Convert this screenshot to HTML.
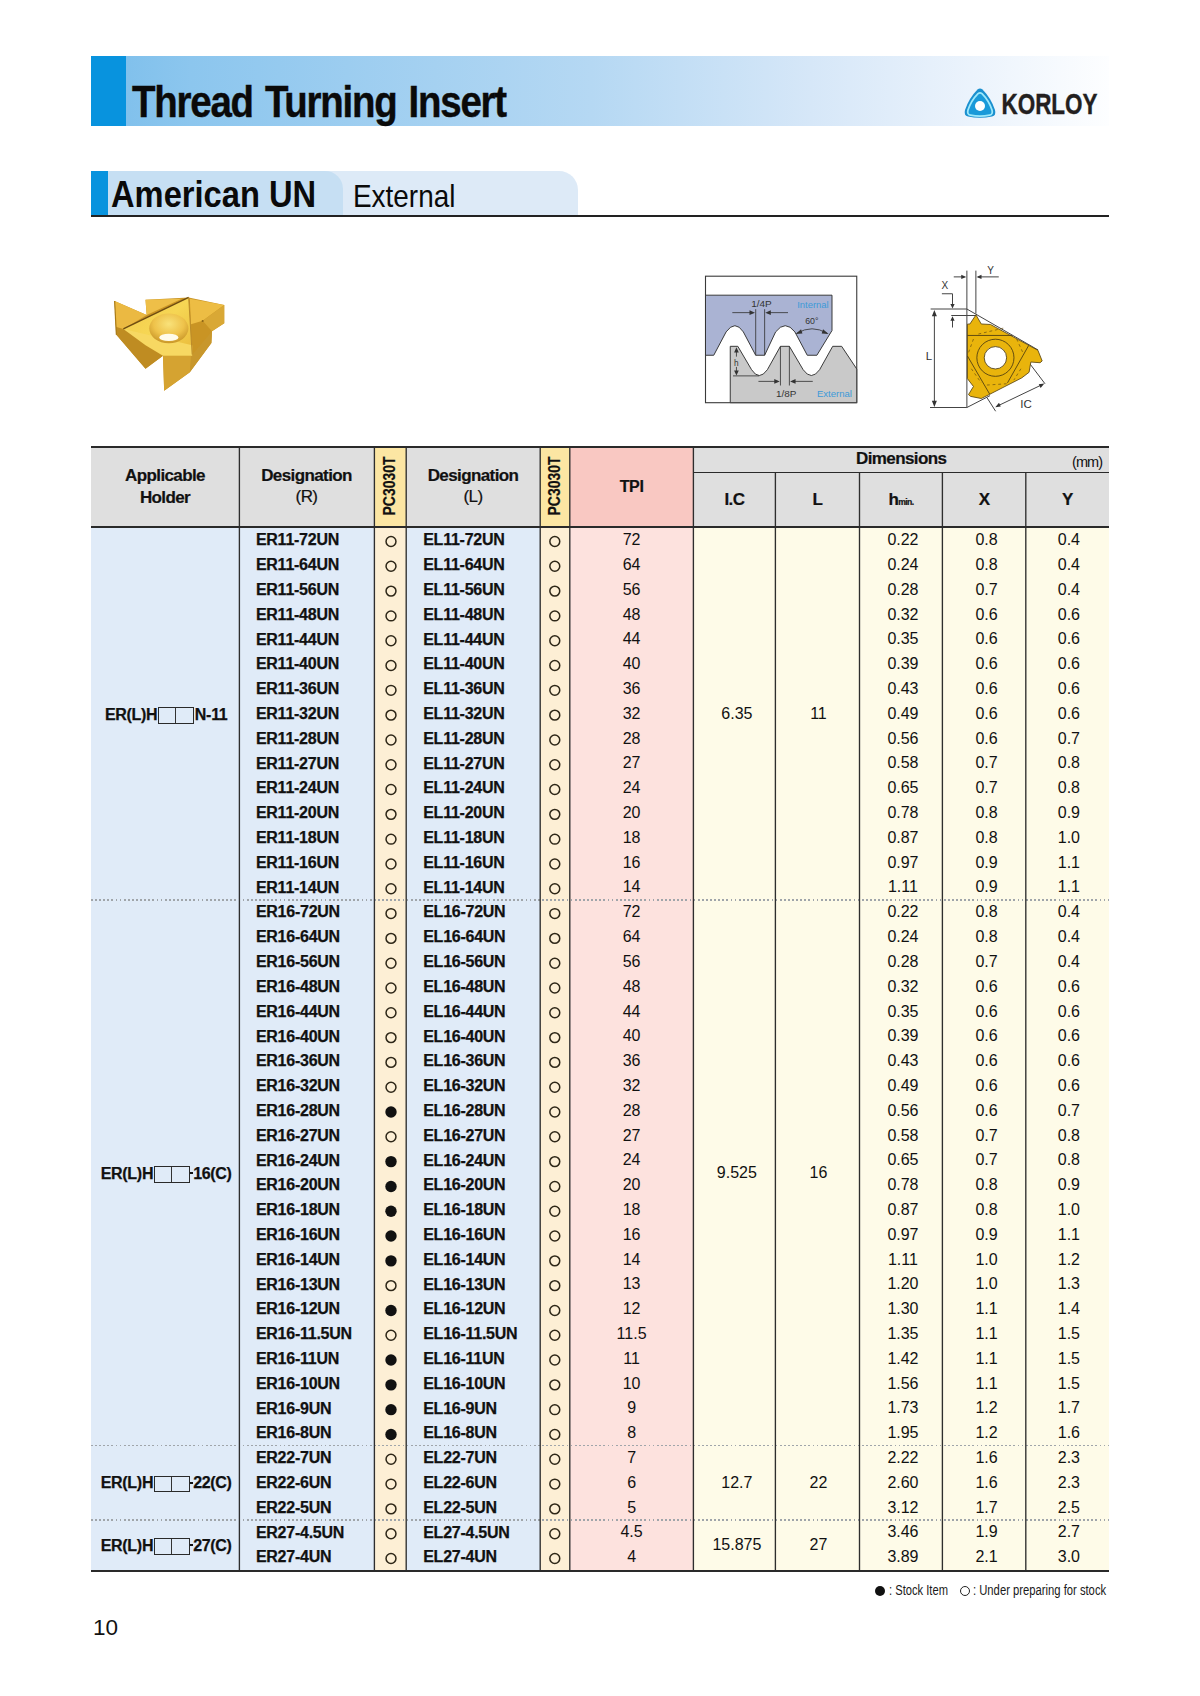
<!DOCTYPE html>
<html><head><meta charset="utf-8"><title>Thread Turning Insert</title>
<style>
*{margin:0;padding:0;box-sizing:border-box}
html,body{width:1200px;height:1696px;background:#fff;overflow:hidden}
body{position:relative;font-family:"Liberation Sans", sans-serif;color:#111}
.hd,.ds,.nm,.hl{position:absolute;white-space:nowrap}
.hd{font-weight:bold;font-size:17px;text-align:center;letter-spacing:-0.6px;-webkit-text-stroke:0.2px #111}
.rg{font-weight:normal}
.ds{font-weight:bold;font-size:16px;letter-spacing:-0.25px;-webkit-text-stroke:0.25px #111}
.nm{font-size:16px;text-align:center;letter-spacing:0px}
.hl{font-weight:bold;font-size:16px;text-align:center;letter-spacing:-0.3px;-webkit-text-stroke:0.25px #111}
.hy{display:inline-block;width:3px;height:2.2px;background:#111;vertical-align:4.5px;margin-left:-1px;margin-right:0.5px}
.bx{display:inline-block;width:35.5px;height:16.5px;border:1.4px solid #2a2a2a;vertical-align:-4px;margin:0 1px;position:relative}
.bx:after{content:"";position:absolute;left:15.5px;top:0;bottom:0;width:1.3px;background:#333}
.vt{position:absolute;width:80px;height:20px;line-height:20px;text-align:center;font-weight:bold;font-size:17px;transform:rotate(-90deg) scaleX(0.82);letter-spacing:0;-webkit-text-stroke:0.2px #111}
.mm{position:absolute;font-size:14.5px;letter-spacing:-0.9px}
.sub{font-size:8.6px;letter-spacing:-0.6px}
.oc,.fc{position:absolute;width:12px;height:12px;border-radius:50%;border:2px solid #4a4232}
.fc{background:#111;border-color:#111}
.dot{position:absolute;left:91px;width:1018px;height:1.6px;background:repeating-linear-gradient(90deg,#a0a5aa 0 1.8px,transparent 1.8px 4.1px)}
</style></head>
<body>
<!-- title bar -->
<div style="position:absolute;left:91px;top:56px;width:1018px;height:70px;background:linear-gradient(90deg,#7bbeeb 0px,#8cc6ee 100px,#b5d8f3 500px,#d6e7f8 720px,#ebf3fc 880px,#fdfeff 1018px)"></div>
<div style="position:absolute;left:91px;top:56px;width:35px;height:70px;background:#0893de"></div>
<div style="position:absolute;left:132px;top:79px;font-weight:bold;font-size:43.5px;line-height:46px;letter-spacing:-1.4px;word-spacing:3px;transform:scaleX(0.884);transform-origin:0 0;color:#0a0a0a;white-space:nowrap;-webkit-text-stroke:0.4px #0a0a0a">Thread Turning Insert</div>
<!-- logo -->
<svg style="position:absolute;left:962px;top:86px" width="140" height="34" viewBox="0 0 140 34">
 <path d="M15.5 3.5 Q18 1.5 20.5 3.5 Q29 12 33 24 Q34.5 29.5 30 30.5 Q18 33 6 30.5 Q1.5 29.5 3 24 Q7 12 15.5 3.5 Z" fill="#1b90cf"/>
 <path d="M15.5 3.5 Q18 1.5 20.5 3.5 Q29 12 33 24 Q34.5 29.5 30 30.5 Q18 33 6 30.5 Q1.5 29.5 3 24 Q7 12 15.5 3.5 Z" fill="#1a9ad9" stroke="#9ee9fb" stroke-width="2.2" transform="translate(18 20) scale(0.8) translate(-18 -19)"/>
 <circle cx="18" cy="20" r="5" fill="#fff"/>
 <text x="39.5" y="27.8" font-family="Liberation Sans" font-weight="bold" font-size="30" fill="#231f20" textLength="96" lengthAdjust="spacingAndGlyphs" stroke="#231f20" stroke-width="0.4">KORLOY</text>
</svg>
<!-- section header -->
<div style="position:absolute;left:91px;top:171px;width:487px;height:45px;background:#ddeaf7;border-top-right-radius:19px"></div>
<div style="position:absolute;left:91px;top:171px;width:252px;height:45px;background:#c6dff3;border-top-right-radius:18px"></div>
<div style="position:absolute;left:91px;top:171px;width:17px;height:45px;background:#0893de"></div>
<div style="position:absolute;left:111px;top:171.5px;font-weight:bold;font-size:36.5px;line-height:45px;transform:scaleX(0.895);transform-origin:0 0;white-space:nowrap;color:#0a0a0a">American UN</div>
<div style="position:absolute;left:352.5px;top:174px;font-size:32px;line-height:45px;transform:scaleX(0.872);transform-origin:0 0;white-space:nowrap;color:#0a0a0a">External</div>
<div style="position:absolute;left:91px;top:215px;width:1018px;height:1.5px;background:#222"></div>
<svg style="position:absolute;left:100px;top:280px" width="140" height="120" viewBox="0 0 1200 1029">
 <defs>
  <linearGradient id="gt" x1="0" y1="0" x2="1" y2="1">
   <stop offset="0" stop-color="#f2c94c"/><stop offset="0.5" stop-color="#f6d654"/><stop offset="1" stop-color="#e9ba3a"/>
  </linearGradient>
  <radialGradient id="gh" cx="0.5" cy="0.35" r="0.65">
   <stop offset="0" stop-color="#f9e27a"/><stop offset="0.6" stop-color="#eec24a"/><stop offset="1" stop-color="#c99628"/>
  </radialGradient>
 </defs>
 <path d="M125 180 L400 300 L390 170 L760 150 L1065 215 L1065 370 L960 440 L955 540 L770 790 L550 950 L540 650 L390 760 L140 470 Z" fill="#c99424"/>
 <path d="M135 400 L200 420 L540 650 L390 760 L140 470 Z" fill="#bf8c22"/>
 <path d="M540 650 L790 650 L770 790 L550 950 Z" fill="#d5a331"/>
 <path d="M790 640 L960 440 L955 540 L770 790 L780 650 Z" fill="#c8972c"/>
 <path d="M125 180 L400 300 L200 420 L135 400 Z" fill="#ebb942"/>
 <path d="M390 170 L700 160 L400 300 Z" fill="#eebf48"/>
 <path d="M770 160 L1065 215 L880 350 L780 380 Z" fill="#edbd44"/>
 <path d="M880 350 L1065 215 L1065 370 L960 440 Z" fill="#d9a835"/>
 <path d="M200 420 L760 150 L790 640 Z" fill="url(#gt)"/>
 <path d="M200 420 L790 560 L790 650 L540 650 L390 560 Z" fill="#f7d862"/>
 <ellipse cx="590" cy="415" rx="168" ry="128" fill="url(#gh)"/>
 <ellipse cx="590" cy="492" rx="82" ry="32" fill="#fffbea"/>
 <path d="M200 420 L760 150" stroke="#6e4c12" stroke-width="12"/>
 <path d="M760 150 L790 640" stroke="#b8892a" stroke-width="8"/>
 <path d="M125 180 L140 470" stroke="#a87a18" stroke-width="10"/>
 <circle cx="880" cy="352" r="9" fill="#8a6418"/>
</svg>

<svg style="position:absolute;left:700px;top:270px" width="165" height="140" viewBox="0 0 1200 1018">
 <rect x="40" y="45" width="1100" height="920" fill="#fff" stroke="#3a3a3a" stroke-width="8"/>
 <path d="M40 183 L960 183 L960 440 L850 620 L780 620 L690 450 Q620 360 550 450 L470 620 L405 620 L315 450 Q255 360 190 450 L100 620 L40 620 Z" fill="#aab3d3" stroke="#333" stroke-width="7" stroke-linejoin="round"/>
 <path d="M220 965 L220 555 L275 555 L375 725 Q430 810 490 725 L585 555 L650 555 L750 725 Q810 810 870 725 L965 555 L1030 555 L1140 720 L1140 965 Z" fill="#c9c9c9" stroke="#333" stroke-width="7" stroke-linejoin="round"/>
 <g stroke="#333" stroke-width="6" fill="none">
  <path d="M405 285 L405 620 M470 285 L470 620"/>
  <path d="M235 310 L385 310 M640 310 L490 310"/>
  <path d="M585 555 L585 840 M650 555 L650 840"/>
  <path d="M425 810 L565 810 M820 810 L670 810"/>
  <path d="M240 770 L430 770"/>
  <path d="M265 590 L265 630 M265 705 L265 745"/>
  <path d="M705 460 Q815 395 925 460"/>
 </g>
 <g fill="#333">
  <path d="M400 310 L360 292 L360 328 Z M475 310 L515 292 L515 328 Z"/>
  <path d="M580 810 L540 792 L540 828 Z M655 810 L695 792 L695 828 Z"/>
  <path d="M265 562 L248 600 L282 600 Z M265 768 L248 730 L282 730 Z"/>
  <path d="M695 465 L735 430 L745 462 Z M935 465 L895 430 L885 462 Z"/>
 </g>
 <g font-family="Liberation Sans" font-size="62">
  <text x="372" y="268" fill="#333" textLength="150" lengthAdjust="spacingAndGlyphs">1/4P</text>
  <text x="765" y="395" fill="#333" font-size="64">60°</text>
  <text x="552" y="922" fill="#333" textLength="148" lengthAdjust="spacingAndGlyphs">1/8P</text>
  <text x="707" y="275" fill="#3d9ad8" textLength="228" lengthAdjust="spacingAndGlyphs">Internal</text>
  <text x="850" y="920" fill="#3d9ad8" textLength="255" lengthAdjust="spacingAndGlyphs">External</text>
  <text x="247" y="695" fill="#333" font-size="60">h</text>
 </g>
</svg>

<svg style="position:absolute;left:915px;top:255px" width="150" height="165" viewBox="0 0 1200 1320">
 <g stroke="#444" stroke-width="8" fill="none">
  <path d="M415 125 L415 1220 M487 125 L487 470 M125 432 L415 432 M290 484 L487 484 M120 1220 L415 1220"/>
  <path d="M415 432 L985 760 M415 1220 L600 1125 M915 865 L1040 1030 M575 1140 L645 1250 M660 1208 L1015 1038"/>
  <path d="M155 460 L155 1195"/>
  <path d="M215 310 L300 310 L300 405 M300 580 L300 505"/>
  <path d="M310 175 L395 175 M670 175 L505 175"/>
 </g>
 <g fill="#333">
  <path d="M155 440 L135 490 L175 490 Z M155 1215 L135 1165 L175 1165 Z"/>
  <path d="M300 428 L283 392 L317 392 Z M300 490 L283 526 L317 526 Z"/>
  <path d="M410 175 L370 158 L370 192 Z M492 175 L532 158 L532 192 Z"/>
  <path d="M642 1218 L672 1182 L686 1212 Z M1035 1028 L990 1033 L1005 1063 Z"/>
 </g>
 <g transform="translate(360,400) scale(0.5667)">
  <path d="M225 140 L300 268 L430 275 L1100 640 L1160 790 L1130 815 L1000 805 L975 950 L870 1030 L420 1260 L300 1320 L150 1290 L120 1265 L190 1150 L105 1040 L105 270 L140 268 Z" fill="#e9b40c" stroke="#5a4410" stroke-width="12" stroke-linejoin="round"/>
  <circle cx="500" cy="745" r="262" fill="none" stroke="#4a3a10" stroke-width="12"/>
  <circle cx="500" cy="745" r="158" fill="#fff" stroke="#4a3a10" stroke-width="12"/>
  <g stroke="#4a3a10" stroke-width="12" fill="none">
   <path d="M105 430 L740 430 M105 720 L420 1260 M970 570 L670 1100"/>
  </g>
  <g stroke="#6a5010" stroke-width="10" fill="none" stroke-dasharray="40 40">
   <path d="M260 410 L640 320 M190 480 L110 700 M800 480 L900 700 M380 1130 L690 1110 M860 900 L760 1060 M160 900 L300 1100"/>
  </g>
 </g>
 <g font-family="Liberation Sans" fill="#333">
  <text x="85" y="840" font-size="92">L</text>
  <text x="842" y="1225" font-size="92">IC</text>
  <text x="212" y="275" font-size="80">X</text>
  <text x="578" y="148" font-size="80">Y</text>
 </g>
</svg>

<!-- TABLE -->
<div style="position:absolute;left:91px;top:446px;width:148.40px;height:80.00px;background:#dfdfdf;"></div>
<div style="position:absolute;left:239.4px;top:446px;width:135.00px;height:80.00px;background:#dfdfdf;"></div>
<div style="position:absolute;left:374.4px;top:446px;width:31.80px;height:80.00px;background:#fce6a3;"></div>
<div style="position:absolute;left:406.2px;top:446px;width:134.00px;height:80.00px;background:#dfdfdf;"></div>
<div style="position:absolute;left:540.2px;top:446px;width:29.60px;height:80.00px;background:#fce6a3;"></div>
<div style="position:absolute;left:569.8px;top:446px;width:123.60px;height:80.00px;background:#f9c8c2;"></div>
<div style="position:absolute;left:693.4px;top:446px;width:415.60px;height:80.00px;background:#dfdfdf;"></div>
<div style="position:absolute;left:91px;top:526px;width:283.40px;height:1044.50px;background:#e0ebf8;"></div>
<div style="position:absolute;left:374.4px;top:526px;width:31.80px;height:1044.50px;background:#fdefd5;"></div>
<div style="position:absolute;left:406.2px;top:526px;width:134.00px;height:1044.50px;background:#e0ebf8;"></div>
<div style="position:absolute;left:540.2px;top:526px;width:29.60px;height:1044.50px;background:#fdefd5;"></div>
<div style="position:absolute;left:569.8px;top:526px;width:123.60px;height:1044.50px;background:#fde2de;"></div>
<div style="position:absolute;left:693.4px;top:526px;width:415.60px;height:1044.50px;background:#fefbe8;"></div>
<div class="dot" style="top:898.98px"></div>
<div class="dot" style="top:1444.69px"></div>
<div class="dot" style="top:1519.10px"></div>
<svg style="position:absolute;left:0;top:0" width="1200" height="1696"><line x1="239.40" y1="446" x2="239.40" y2="1570.5" stroke="#2e2e2e" stroke-width="1.35"/><line x1="374.40" y1="446" x2="374.40" y2="1570.5" stroke="#2e2e2e" stroke-width="1.35"/><line x1="406.20" y1="446" x2="406.20" y2="1570.5" stroke="#2e2e2e" stroke-width="1.35"/><line x1="540.20" y1="446" x2="540.20" y2="1570.5" stroke="#2e2e2e" stroke-width="1.35"/><line x1="569.80" y1="446" x2="569.80" y2="1570.5" stroke="#2e2e2e" stroke-width="1.35"/><line x1="693.40" y1="446" x2="693.40" y2="1570.5" stroke="#2e2e2e" stroke-width="1.35"/><line x1="775.40" y1="472" x2="775.40" y2="1570.5" stroke="#2e2e2e" stroke-width="1.35"/><line x1="859.50" y1="472" x2="859.50" y2="1570.5" stroke="#2e2e2e" stroke-width="1.35"/><line x1="942.40" y1="472" x2="942.40" y2="1570.5" stroke="#2e2e2e" stroke-width="1.35"/><line x1="1025.80" y1="472" x2="1025.80" y2="1570.5" stroke="#2e2e2e" stroke-width="1.35"/></svg>
<div style="position:absolute;left:91px;top:446px;width:1018.00px;height:2.00px;background:#2a2a2a;"></div>
<div style="position:absolute;left:693.4px;top:471.5px;width:415.60px;height:1.20px;background:#2a2a2a;"></div>
<div style="position:absolute;left:91px;top:526px;width:1018.00px;height:1.60px;background:#2a2a2a;"></div>
<div style="position:absolute;left:91px;top:1569.5px;width:1018.00px;height:2.00px;background:#2a2a2a;"></div>
<div class="hd" style="left:91px;top:465px;width:148px;line-height:21.6px">Applicable<br>Holder</div>
<div class="hd" style="left:239px;top:464.8px;width:135px;line-height:21.6px">Designation<br><span class="rg">(R)</span></div>
<div class="hd" style="left:406px;top:464.8px;width:134px;line-height:21.6px">Designation<br><span class="rg">(L)</span></div>
<div class="vt" style="left:350.3px;top:476.0px">PC3030T</div>
<div class="vt" style="left:515.0px;top:476.0px">PC3030T</div>
<div class="hd" style="left:569.80px;top:474.00px;width:123.60px;height:26.00px;line-height:26.00px;font-size:16px;letter-spacing:-0.4px">TPI</div>
<div class="hd" style="left:693.40px;top:446.00px;width:415.60px;height:26.00px;line-height:26.00px;">Dimensions</div>
<div class="mm" style="left:1072px;top:454px">(mm)</div>
<div class="hd" style="left:693.40px;top:487.20px;width:82.00px;height:26.00px;line-height:26.00px;">I.C</div>
<div class="hd" style="left:775.40px;top:487.20px;width:84.10px;height:26.00px;line-height:26.00px;">L</div>
<div class="hd" style="left:859.50px;top:487.20px;width:82.90px;height:26.00px;line-height:26.00px;">h<span class="sub">min.</span></div>
<div class="hd" style="left:942.40px;top:487.20px;width:83.40px;height:26.00px;line-height:26.00px;">X</div>
<div class="hd" style="left:1025.80px;top:487.20px;width:83.20px;height:26.00px;line-height:26.00px;">Y</div>
<div class="hl" style="left:91.00px;top:528.70px;width:148.40px;height:372.07px;line-height:372.07px;padding-left:2px">ER(L)H<span class="bx"></span>N-11</div>
<div class="nm" style="left:695.90px;top:528.20px;width:82.00px;height:372.07px;line-height:372.07px;">6.35</div>
<div class="nm" style="left:776.40px;top:528.20px;width:84.10px;height:372.07px;line-height:372.07px;">11</div>
<div class="ds" style="left:255.90px;top:528.40px;width:118.50px;height:24.80px;line-height:24.80px;">ER11-72UN</div>
<div class="ds" style="left:423.20px;top:528.40px;width:117.00px;height:24.80px;line-height:24.80px;">EL11-72UN</div>
<div class="nm" style="left:569.80px;top:528.20px;width:123.60px;height:24.80px;line-height:24.80px;">72</div>
<div class="nm" style="left:861.50px;top:528.20px;width:82.90px;height:24.80px;line-height:24.80px;">0.22</div>
<div class="nm" style="left:944.90px;top:528.20px;width:83.40px;height:24.80px;line-height:24.80px;">0.8</div>
<div class="nm" style="left:1027.30px;top:528.20px;width:83.20px;height:24.80px;line-height:24.80px;">0.4</div>
<div class="ds" style="left:255.90px;top:553.21px;width:118.50px;height:24.80px;line-height:24.80px;">ER11-64UN</div>
<div class="ds" style="left:423.20px;top:553.21px;width:117.00px;height:24.80px;line-height:24.80px;">EL11-64UN</div>
<div class="nm" style="left:569.80px;top:553.00px;width:123.60px;height:24.80px;line-height:24.80px;">64</div>
<div class="nm" style="left:861.50px;top:553.00px;width:82.90px;height:24.80px;line-height:24.80px;">0.24</div>
<div class="nm" style="left:944.90px;top:553.00px;width:83.40px;height:24.80px;line-height:24.80px;">0.8</div>
<div class="nm" style="left:1027.30px;top:553.00px;width:83.20px;height:24.80px;line-height:24.80px;">0.4</div>
<div class="ds" style="left:255.90px;top:578.01px;width:118.50px;height:24.80px;line-height:24.80px;">ER11-56UN</div>
<div class="ds" style="left:423.20px;top:578.01px;width:117.00px;height:24.80px;line-height:24.80px;">EL11-56UN</div>
<div class="nm" style="left:569.80px;top:577.81px;width:123.60px;height:24.80px;line-height:24.80px;">56</div>
<div class="nm" style="left:861.50px;top:577.81px;width:82.90px;height:24.80px;line-height:24.80px;">0.28</div>
<div class="nm" style="left:944.90px;top:577.81px;width:83.40px;height:24.80px;line-height:24.80px;">0.7</div>
<div class="nm" style="left:1027.30px;top:577.81px;width:83.20px;height:24.80px;line-height:24.80px;">0.4</div>
<div class="ds" style="left:255.90px;top:602.82px;width:118.50px;height:24.80px;line-height:24.80px;">ER11-48UN</div>
<div class="ds" style="left:423.20px;top:602.82px;width:117.00px;height:24.80px;line-height:24.80px;">EL11-48UN</div>
<div class="nm" style="left:569.80px;top:602.62px;width:123.60px;height:24.80px;line-height:24.80px;">48</div>
<div class="nm" style="left:861.50px;top:602.62px;width:82.90px;height:24.80px;line-height:24.80px;">0.32</div>
<div class="nm" style="left:944.90px;top:602.62px;width:83.40px;height:24.80px;line-height:24.80px;">0.6</div>
<div class="nm" style="left:1027.30px;top:602.62px;width:83.20px;height:24.80px;line-height:24.80px;">0.6</div>
<div class="ds" style="left:255.90px;top:627.62px;width:118.50px;height:24.80px;line-height:24.80px;">ER11-44UN</div>
<div class="ds" style="left:423.20px;top:627.62px;width:117.00px;height:24.80px;line-height:24.80px;">EL11-44UN</div>
<div class="nm" style="left:569.80px;top:627.42px;width:123.60px;height:24.80px;line-height:24.80px;">44</div>
<div class="nm" style="left:861.50px;top:627.42px;width:82.90px;height:24.80px;line-height:24.80px;">0.35</div>
<div class="nm" style="left:944.90px;top:627.42px;width:83.40px;height:24.80px;line-height:24.80px;">0.6</div>
<div class="nm" style="left:1027.30px;top:627.42px;width:83.20px;height:24.80px;line-height:24.80px;">0.6</div>
<div class="ds" style="left:255.90px;top:652.43px;width:118.50px;height:24.80px;line-height:24.80px;">ER11-40UN</div>
<div class="ds" style="left:423.20px;top:652.43px;width:117.00px;height:24.80px;line-height:24.80px;">EL11-40UN</div>
<div class="nm" style="left:569.80px;top:652.23px;width:123.60px;height:24.80px;line-height:24.80px;">40</div>
<div class="nm" style="left:861.50px;top:652.23px;width:82.90px;height:24.80px;line-height:24.80px;">0.39</div>
<div class="nm" style="left:944.90px;top:652.23px;width:83.40px;height:24.80px;line-height:24.80px;">0.6</div>
<div class="nm" style="left:1027.30px;top:652.23px;width:83.20px;height:24.80px;line-height:24.80px;">0.6</div>
<div class="ds" style="left:255.90px;top:677.23px;width:118.50px;height:24.80px;line-height:24.80px;">ER11-36UN</div>
<div class="ds" style="left:423.20px;top:677.23px;width:117.00px;height:24.80px;line-height:24.80px;">EL11-36UN</div>
<div class="nm" style="left:569.80px;top:677.03px;width:123.60px;height:24.80px;line-height:24.80px;">36</div>
<div class="nm" style="left:861.50px;top:677.03px;width:82.90px;height:24.80px;line-height:24.80px;">0.43</div>
<div class="nm" style="left:944.90px;top:677.03px;width:83.40px;height:24.80px;line-height:24.80px;">0.6</div>
<div class="nm" style="left:1027.30px;top:677.03px;width:83.20px;height:24.80px;line-height:24.80px;">0.6</div>
<div class="ds" style="left:255.90px;top:702.04px;width:118.50px;height:24.80px;line-height:24.80px;">ER11-32UN</div>
<div class="ds" style="left:423.20px;top:702.04px;width:117.00px;height:24.80px;line-height:24.80px;">EL11-32UN</div>
<div class="nm" style="left:569.80px;top:701.84px;width:123.60px;height:24.80px;line-height:24.80px;">32</div>
<div class="nm" style="left:861.50px;top:701.84px;width:82.90px;height:24.80px;line-height:24.80px;">0.49</div>
<div class="nm" style="left:944.90px;top:701.84px;width:83.40px;height:24.80px;line-height:24.80px;">0.6</div>
<div class="nm" style="left:1027.30px;top:701.84px;width:83.20px;height:24.80px;line-height:24.80px;">0.6</div>
<div class="ds" style="left:255.90px;top:726.84px;width:118.50px;height:24.80px;line-height:24.80px;">ER11-28UN</div>
<div class="ds" style="left:423.20px;top:726.84px;width:117.00px;height:24.80px;line-height:24.80px;">EL11-28UN</div>
<div class="nm" style="left:569.80px;top:726.64px;width:123.60px;height:24.80px;line-height:24.80px;">28</div>
<div class="nm" style="left:861.50px;top:726.64px;width:82.90px;height:24.80px;line-height:24.80px;">0.56</div>
<div class="nm" style="left:944.90px;top:726.64px;width:83.40px;height:24.80px;line-height:24.80px;">0.6</div>
<div class="nm" style="left:1027.30px;top:726.64px;width:83.20px;height:24.80px;line-height:24.80px;">0.7</div>
<div class="ds" style="left:255.90px;top:751.65px;width:118.50px;height:24.80px;line-height:24.80px;">ER11-27UN</div>
<div class="ds" style="left:423.20px;top:751.65px;width:117.00px;height:24.80px;line-height:24.80px;">EL11-27UN</div>
<div class="nm" style="left:569.80px;top:751.45px;width:123.60px;height:24.80px;line-height:24.80px;">27</div>
<div class="nm" style="left:861.50px;top:751.45px;width:82.90px;height:24.80px;line-height:24.80px;">0.58</div>
<div class="nm" style="left:944.90px;top:751.45px;width:83.40px;height:24.80px;line-height:24.80px;">0.7</div>
<div class="nm" style="left:1027.30px;top:751.45px;width:83.20px;height:24.80px;line-height:24.80px;">0.8</div>
<div class="ds" style="left:255.90px;top:776.45px;width:118.50px;height:24.80px;line-height:24.80px;">ER11-24UN</div>
<div class="ds" style="left:423.20px;top:776.45px;width:117.00px;height:24.80px;line-height:24.80px;">EL11-24UN</div>
<div class="nm" style="left:569.80px;top:776.25px;width:123.60px;height:24.80px;line-height:24.80px;">24</div>
<div class="nm" style="left:861.50px;top:776.25px;width:82.90px;height:24.80px;line-height:24.80px;">0.65</div>
<div class="nm" style="left:944.90px;top:776.25px;width:83.40px;height:24.80px;line-height:24.80px;">0.7</div>
<div class="nm" style="left:1027.30px;top:776.25px;width:83.20px;height:24.80px;line-height:24.80px;">0.8</div>
<div class="ds" style="left:255.90px;top:801.26px;width:118.50px;height:24.80px;line-height:24.80px;">ER11-20UN</div>
<div class="ds" style="left:423.20px;top:801.26px;width:117.00px;height:24.80px;line-height:24.80px;">EL11-20UN</div>
<div class="nm" style="left:569.80px;top:801.06px;width:123.60px;height:24.80px;line-height:24.80px;">20</div>
<div class="nm" style="left:861.50px;top:801.06px;width:82.90px;height:24.80px;line-height:24.80px;">0.78</div>
<div class="nm" style="left:944.90px;top:801.06px;width:83.40px;height:24.80px;line-height:24.80px;">0.8</div>
<div class="nm" style="left:1027.30px;top:801.06px;width:83.20px;height:24.80px;line-height:24.80px;">0.9</div>
<div class="ds" style="left:255.90px;top:826.06px;width:118.50px;height:24.80px;line-height:24.80px;">ER11-18UN</div>
<div class="ds" style="left:423.20px;top:826.06px;width:117.00px;height:24.80px;line-height:24.80px;">EL11-18UN</div>
<div class="nm" style="left:569.80px;top:825.86px;width:123.60px;height:24.80px;line-height:24.80px;">18</div>
<div class="nm" style="left:861.50px;top:825.86px;width:82.90px;height:24.80px;line-height:24.80px;">0.87</div>
<div class="nm" style="left:944.90px;top:825.86px;width:83.40px;height:24.80px;line-height:24.80px;">0.8</div>
<div class="nm" style="left:1027.30px;top:825.86px;width:83.20px;height:24.80px;line-height:24.80px;">1.0</div>
<div class="ds" style="left:255.90px;top:850.87px;width:118.50px;height:24.80px;line-height:24.80px;">ER11-16UN</div>
<div class="ds" style="left:423.20px;top:850.87px;width:117.00px;height:24.80px;line-height:24.80px;">EL11-16UN</div>
<div class="nm" style="left:569.80px;top:850.66px;width:123.60px;height:24.80px;line-height:24.80px;">16</div>
<div class="nm" style="left:861.50px;top:850.66px;width:82.90px;height:24.80px;line-height:24.80px;">0.97</div>
<div class="nm" style="left:944.90px;top:850.66px;width:83.40px;height:24.80px;line-height:24.80px;">0.9</div>
<div class="nm" style="left:1027.30px;top:850.66px;width:83.20px;height:24.80px;line-height:24.80px;">1.1</div>
<div class="ds" style="left:255.90px;top:875.67px;width:118.50px;height:24.80px;line-height:24.80px;">ER11-14UN</div>
<div class="ds" style="left:423.20px;top:875.67px;width:117.00px;height:24.80px;line-height:24.80px;">EL11-14UN</div>
<div class="nm" style="left:569.80px;top:875.47px;width:123.60px;height:24.80px;line-height:24.80px;">14</div>
<div class="nm" style="left:861.50px;top:875.47px;width:82.90px;height:24.80px;line-height:24.80px;">1.11</div>
<div class="nm" style="left:944.90px;top:875.47px;width:83.40px;height:24.80px;line-height:24.80px;">0.9</div>
<div class="nm" style="left:1027.30px;top:875.47px;width:83.20px;height:24.80px;line-height:24.80px;">1.1</div>
<div class="hl" style="left:91.00px;top:900.78px;width:148.40px;height:545.71px;line-height:545.71px;padding-left:2px">ER(L)H<span class="bx"></span><span class="hy"></span>16(C)</div>
<div class="nm" style="left:695.90px;top:900.28px;width:82.00px;height:545.71px;line-height:545.71px;">9.525</div>
<div class="nm" style="left:776.40px;top:900.28px;width:84.10px;height:545.71px;line-height:545.71px;">16</div>
<div class="ds" style="left:255.90px;top:900.48px;width:118.50px;height:24.80px;line-height:24.80px;">ER16-72UN</div>
<div class="ds" style="left:423.20px;top:900.48px;width:117.00px;height:24.80px;line-height:24.80px;">EL16-72UN</div>
<div class="nm" style="left:569.80px;top:900.28px;width:123.60px;height:24.80px;line-height:24.80px;">72</div>
<div class="nm" style="left:861.50px;top:900.28px;width:82.90px;height:24.80px;line-height:24.80px;">0.22</div>
<div class="nm" style="left:944.90px;top:900.28px;width:83.40px;height:24.80px;line-height:24.80px;">0.8</div>
<div class="nm" style="left:1027.30px;top:900.28px;width:83.20px;height:24.80px;line-height:24.80px;">0.4</div>
<div class="ds" style="left:255.90px;top:925.28px;width:118.50px;height:24.80px;line-height:24.80px;">ER16-64UN</div>
<div class="ds" style="left:423.20px;top:925.28px;width:117.00px;height:24.80px;line-height:24.80px;">EL16-64UN</div>
<div class="nm" style="left:569.80px;top:925.08px;width:123.60px;height:24.80px;line-height:24.80px;">64</div>
<div class="nm" style="left:861.50px;top:925.08px;width:82.90px;height:24.80px;line-height:24.80px;">0.24</div>
<div class="nm" style="left:944.90px;top:925.08px;width:83.40px;height:24.80px;line-height:24.80px;">0.8</div>
<div class="nm" style="left:1027.30px;top:925.08px;width:83.20px;height:24.80px;line-height:24.80px;">0.4</div>
<div class="ds" style="left:255.90px;top:950.09px;width:118.50px;height:24.80px;line-height:24.80px;">ER16-56UN</div>
<div class="ds" style="left:423.20px;top:950.09px;width:117.00px;height:24.80px;line-height:24.80px;">EL16-56UN</div>
<div class="nm" style="left:569.80px;top:949.88px;width:123.60px;height:24.80px;line-height:24.80px;">56</div>
<div class="nm" style="left:861.50px;top:949.88px;width:82.90px;height:24.80px;line-height:24.80px;">0.28</div>
<div class="nm" style="left:944.90px;top:949.88px;width:83.40px;height:24.80px;line-height:24.80px;">0.7</div>
<div class="nm" style="left:1027.30px;top:949.88px;width:83.20px;height:24.80px;line-height:24.80px;">0.4</div>
<div class="ds" style="left:255.90px;top:974.89px;width:118.50px;height:24.80px;line-height:24.80px;">ER16-48UN</div>
<div class="ds" style="left:423.20px;top:974.89px;width:117.00px;height:24.80px;line-height:24.80px;">EL16-48UN</div>
<div class="nm" style="left:569.80px;top:974.69px;width:123.60px;height:24.80px;line-height:24.80px;">48</div>
<div class="nm" style="left:861.50px;top:974.69px;width:82.90px;height:24.80px;line-height:24.80px;">0.32</div>
<div class="nm" style="left:944.90px;top:974.69px;width:83.40px;height:24.80px;line-height:24.80px;">0.6</div>
<div class="nm" style="left:1027.30px;top:974.69px;width:83.20px;height:24.80px;line-height:24.80px;">0.6</div>
<div class="ds" style="left:255.90px;top:999.70px;width:118.50px;height:24.80px;line-height:24.80px;">ER16-44UN</div>
<div class="ds" style="left:423.20px;top:999.70px;width:117.00px;height:24.80px;line-height:24.80px;">EL16-44UN</div>
<div class="nm" style="left:569.80px;top:999.50px;width:123.60px;height:24.80px;line-height:24.80px;">44</div>
<div class="nm" style="left:861.50px;top:999.50px;width:82.90px;height:24.80px;line-height:24.80px;">0.35</div>
<div class="nm" style="left:944.90px;top:999.50px;width:83.40px;height:24.80px;line-height:24.80px;">0.6</div>
<div class="nm" style="left:1027.30px;top:999.50px;width:83.20px;height:24.80px;line-height:24.80px;">0.6</div>
<div class="ds" style="left:255.90px;top:1024.50px;width:118.50px;height:24.80px;line-height:24.80px;">ER16-40UN</div>
<div class="ds" style="left:423.20px;top:1024.50px;width:117.00px;height:24.80px;line-height:24.80px;">EL16-40UN</div>
<div class="nm" style="left:569.80px;top:1024.30px;width:123.60px;height:24.80px;line-height:24.80px;">40</div>
<div class="nm" style="left:861.50px;top:1024.30px;width:82.90px;height:24.80px;line-height:24.80px;">0.39</div>
<div class="nm" style="left:944.90px;top:1024.30px;width:83.40px;height:24.80px;line-height:24.80px;">0.6</div>
<div class="nm" style="left:1027.30px;top:1024.30px;width:83.20px;height:24.80px;line-height:24.80px;">0.6</div>
<div class="ds" style="left:255.90px;top:1049.31px;width:118.50px;height:24.80px;line-height:24.80px;">ER16-36UN</div>
<div class="ds" style="left:423.20px;top:1049.31px;width:117.00px;height:24.80px;line-height:24.80px;">EL16-36UN</div>
<div class="nm" style="left:569.80px;top:1049.11px;width:123.60px;height:24.80px;line-height:24.80px;">36</div>
<div class="nm" style="left:861.50px;top:1049.11px;width:82.90px;height:24.80px;line-height:24.80px;">0.43</div>
<div class="nm" style="left:944.90px;top:1049.11px;width:83.40px;height:24.80px;line-height:24.80px;">0.6</div>
<div class="nm" style="left:1027.30px;top:1049.11px;width:83.20px;height:24.80px;line-height:24.80px;">0.6</div>
<div class="ds" style="left:255.90px;top:1074.11px;width:118.50px;height:24.80px;line-height:24.80px;">ER16-32UN</div>
<div class="ds" style="left:423.20px;top:1074.11px;width:117.00px;height:24.80px;line-height:24.80px;">EL16-32UN</div>
<div class="nm" style="left:569.80px;top:1073.91px;width:123.60px;height:24.80px;line-height:24.80px;">32</div>
<div class="nm" style="left:861.50px;top:1073.91px;width:82.90px;height:24.80px;line-height:24.80px;">0.49</div>
<div class="nm" style="left:944.90px;top:1073.91px;width:83.40px;height:24.80px;line-height:24.80px;">0.6</div>
<div class="nm" style="left:1027.30px;top:1073.91px;width:83.20px;height:24.80px;line-height:24.80px;">0.6</div>
<div class="ds" style="left:255.90px;top:1098.92px;width:118.50px;height:24.80px;line-height:24.80px;">ER16-28UN</div>
<div class="ds" style="left:423.20px;top:1098.92px;width:117.00px;height:24.80px;line-height:24.80px;">EL16-28UN</div>
<div class="nm" style="left:569.80px;top:1098.72px;width:123.60px;height:24.80px;line-height:24.80px;">28</div>
<div class="nm" style="left:861.50px;top:1098.72px;width:82.90px;height:24.80px;line-height:24.80px;">0.56</div>
<div class="nm" style="left:944.90px;top:1098.72px;width:83.40px;height:24.80px;line-height:24.80px;">0.6</div>
<div class="nm" style="left:1027.30px;top:1098.72px;width:83.20px;height:24.80px;line-height:24.80px;">0.7</div>
<div class="ds" style="left:255.90px;top:1123.72px;width:118.50px;height:24.80px;line-height:24.80px;">ER16-27UN</div>
<div class="ds" style="left:423.20px;top:1123.72px;width:117.00px;height:24.80px;line-height:24.80px;">EL16-27UN</div>
<div class="nm" style="left:569.80px;top:1123.52px;width:123.60px;height:24.80px;line-height:24.80px;">27</div>
<div class="nm" style="left:861.50px;top:1123.52px;width:82.90px;height:24.80px;line-height:24.80px;">0.58</div>
<div class="nm" style="left:944.90px;top:1123.52px;width:83.40px;height:24.80px;line-height:24.80px;">0.7</div>
<div class="nm" style="left:1027.30px;top:1123.52px;width:83.20px;height:24.80px;line-height:24.80px;">0.8</div>
<div class="ds" style="left:255.90px;top:1148.53px;width:118.50px;height:24.80px;line-height:24.80px;">ER16-24UN</div>
<div class="ds" style="left:423.20px;top:1148.53px;width:117.00px;height:24.80px;line-height:24.80px;">EL16-24UN</div>
<div class="nm" style="left:569.80px;top:1148.33px;width:123.60px;height:24.80px;line-height:24.80px;">24</div>
<div class="nm" style="left:861.50px;top:1148.33px;width:82.90px;height:24.80px;line-height:24.80px;">0.65</div>
<div class="nm" style="left:944.90px;top:1148.33px;width:83.40px;height:24.80px;line-height:24.80px;">0.7</div>
<div class="nm" style="left:1027.30px;top:1148.33px;width:83.20px;height:24.80px;line-height:24.80px;">0.8</div>
<div class="ds" style="left:255.90px;top:1173.33px;width:118.50px;height:24.80px;line-height:24.80px;">ER16-20UN</div>
<div class="ds" style="left:423.20px;top:1173.33px;width:117.00px;height:24.80px;line-height:24.80px;">EL16-20UN</div>
<div class="nm" style="left:569.80px;top:1173.13px;width:123.60px;height:24.80px;line-height:24.80px;">20</div>
<div class="nm" style="left:861.50px;top:1173.13px;width:82.90px;height:24.80px;line-height:24.80px;">0.78</div>
<div class="nm" style="left:944.90px;top:1173.13px;width:83.40px;height:24.80px;line-height:24.80px;">0.8</div>
<div class="nm" style="left:1027.30px;top:1173.13px;width:83.20px;height:24.80px;line-height:24.80px;">0.9</div>
<div class="ds" style="left:255.90px;top:1198.13px;width:118.50px;height:24.80px;line-height:24.80px;">ER16-18UN</div>
<div class="ds" style="left:423.20px;top:1198.13px;width:117.00px;height:24.80px;line-height:24.80px;">EL16-18UN</div>
<div class="nm" style="left:569.80px;top:1197.93px;width:123.60px;height:24.80px;line-height:24.80px;">18</div>
<div class="nm" style="left:861.50px;top:1197.93px;width:82.90px;height:24.80px;line-height:24.80px;">0.87</div>
<div class="nm" style="left:944.90px;top:1197.93px;width:83.40px;height:24.80px;line-height:24.80px;">0.8</div>
<div class="nm" style="left:1027.30px;top:1197.93px;width:83.20px;height:24.80px;line-height:24.80px;">1.0</div>
<div class="ds" style="left:255.90px;top:1222.94px;width:118.50px;height:24.80px;line-height:24.80px;">ER16-16UN</div>
<div class="ds" style="left:423.20px;top:1222.94px;width:117.00px;height:24.80px;line-height:24.80px;">EL16-16UN</div>
<div class="nm" style="left:569.80px;top:1222.74px;width:123.60px;height:24.80px;line-height:24.80px;">16</div>
<div class="nm" style="left:861.50px;top:1222.74px;width:82.90px;height:24.80px;line-height:24.80px;">0.97</div>
<div class="nm" style="left:944.90px;top:1222.74px;width:83.40px;height:24.80px;line-height:24.80px;">0.9</div>
<div class="nm" style="left:1027.30px;top:1222.74px;width:83.20px;height:24.80px;line-height:24.80px;">1.1</div>
<div class="ds" style="left:255.90px;top:1247.75px;width:118.50px;height:24.80px;line-height:24.80px;">ER16-14UN</div>
<div class="ds" style="left:423.20px;top:1247.75px;width:117.00px;height:24.80px;line-height:24.80px;">EL16-14UN</div>
<div class="nm" style="left:569.80px;top:1247.55px;width:123.60px;height:24.80px;line-height:24.80px;">14</div>
<div class="nm" style="left:861.50px;top:1247.55px;width:82.90px;height:24.80px;line-height:24.80px;">1.11</div>
<div class="nm" style="left:944.90px;top:1247.55px;width:83.40px;height:24.80px;line-height:24.80px;">1.0</div>
<div class="nm" style="left:1027.30px;top:1247.55px;width:83.20px;height:24.80px;line-height:24.80px;">1.2</div>
<div class="ds" style="left:255.90px;top:1272.55px;width:118.50px;height:24.80px;line-height:24.80px;">ER16-13UN</div>
<div class="ds" style="left:423.20px;top:1272.55px;width:117.00px;height:24.80px;line-height:24.80px;">EL16-13UN</div>
<div class="nm" style="left:569.80px;top:1272.35px;width:123.60px;height:24.80px;line-height:24.80px;">13</div>
<div class="nm" style="left:861.50px;top:1272.35px;width:82.90px;height:24.80px;line-height:24.80px;">1.20</div>
<div class="nm" style="left:944.90px;top:1272.35px;width:83.40px;height:24.80px;line-height:24.80px;">1.0</div>
<div class="nm" style="left:1027.30px;top:1272.35px;width:83.20px;height:24.80px;line-height:24.80px;">1.3</div>
<div class="ds" style="left:255.90px;top:1297.36px;width:118.50px;height:24.80px;line-height:24.80px;">ER16-12UN</div>
<div class="ds" style="left:423.20px;top:1297.36px;width:117.00px;height:24.80px;line-height:24.80px;">EL16-12UN</div>
<div class="nm" style="left:569.80px;top:1297.16px;width:123.60px;height:24.80px;line-height:24.80px;">12</div>
<div class="nm" style="left:861.50px;top:1297.16px;width:82.90px;height:24.80px;line-height:24.80px;">1.30</div>
<div class="nm" style="left:944.90px;top:1297.16px;width:83.40px;height:24.80px;line-height:24.80px;">1.1</div>
<div class="nm" style="left:1027.30px;top:1297.16px;width:83.20px;height:24.80px;line-height:24.80px;">1.4</div>
<div class="ds" style="left:255.90px;top:1322.16px;width:118.50px;height:24.80px;line-height:24.80px;">ER16-11.5UN</div>
<div class="ds" style="left:423.20px;top:1322.16px;width:117.00px;height:24.80px;line-height:24.80px;">EL16-11.5UN</div>
<div class="nm" style="left:569.80px;top:1321.96px;width:123.60px;height:24.80px;line-height:24.80px;">11.5</div>
<div class="nm" style="left:861.50px;top:1321.96px;width:82.90px;height:24.80px;line-height:24.80px;">1.35</div>
<div class="nm" style="left:944.90px;top:1321.96px;width:83.40px;height:24.80px;line-height:24.80px;">1.1</div>
<div class="nm" style="left:1027.30px;top:1321.96px;width:83.20px;height:24.80px;line-height:24.80px;">1.5</div>
<div class="ds" style="left:255.90px;top:1346.96px;width:118.50px;height:24.80px;line-height:24.80px;">ER16-11UN</div>
<div class="ds" style="left:423.20px;top:1346.96px;width:117.00px;height:24.80px;line-height:24.80px;">EL16-11UN</div>
<div class="nm" style="left:569.80px;top:1346.76px;width:123.60px;height:24.80px;line-height:24.80px;">11</div>
<div class="nm" style="left:861.50px;top:1346.76px;width:82.90px;height:24.80px;line-height:24.80px;">1.42</div>
<div class="nm" style="left:944.90px;top:1346.76px;width:83.40px;height:24.80px;line-height:24.80px;">1.1</div>
<div class="nm" style="left:1027.30px;top:1346.76px;width:83.20px;height:24.80px;line-height:24.80px;">1.5</div>
<div class="ds" style="left:255.90px;top:1371.77px;width:118.50px;height:24.80px;line-height:24.80px;">ER16-10UN</div>
<div class="ds" style="left:423.20px;top:1371.77px;width:117.00px;height:24.80px;line-height:24.80px;">EL16-10UN</div>
<div class="nm" style="left:569.80px;top:1371.57px;width:123.60px;height:24.80px;line-height:24.80px;">10</div>
<div class="nm" style="left:861.50px;top:1371.57px;width:82.90px;height:24.80px;line-height:24.80px;">1.56</div>
<div class="nm" style="left:944.90px;top:1371.57px;width:83.40px;height:24.80px;line-height:24.80px;">1.1</div>
<div class="nm" style="left:1027.30px;top:1371.57px;width:83.20px;height:24.80px;line-height:24.80px;">1.5</div>
<div class="ds" style="left:255.90px;top:1396.58px;width:118.50px;height:24.80px;line-height:24.80px;">ER16-9UN</div>
<div class="ds" style="left:423.20px;top:1396.58px;width:117.00px;height:24.80px;line-height:24.80px;">EL16-9UN</div>
<div class="nm" style="left:569.80px;top:1396.38px;width:123.60px;height:24.80px;line-height:24.80px;">9</div>
<div class="nm" style="left:861.50px;top:1396.38px;width:82.90px;height:24.80px;line-height:24.80px;">1.73</div>
<div class="nm" style="left:944.90px;top:1396.38px;width:83.40px;height:24.80px;line-height:24.80px;">1.2</div>
<div class="nm" style="left:1027.30px;top:1396.38px;width:83.20px;height:24.80px;line-height:24.80px;">1.7</div>
<div class="ds" style="left:255.90px;top:1421.38px;width:118.50px;height:24.80px;line-height:24.80px;">ER16-8UN</div>
<div class="ds" style="left:423.20px;top:1421.38px;width:117.00px;height:24.80px;line-height:24.80px;">EL16-8UN</div>
<div class="nm" style="left:569.80px;top:1421.18px;width:123.60px;height:24.80px;line-height:24.80px;">8</div>
<div class="nm" style="left:861.50px;top:1421.18px;width:82.90px;height:24.80px;line-height:24.80px;">1.95</div>
<div class="nm" style="left:944.90px;top:1421.18px;width:83.40px;height:24.80px;line-height:24.80px;">1.2</div>
<div class="nm" style="left:1027.30px;top:1421.18px;width:83.20px;height:24.80px;line-height:24.80px;">1.6</div>
<div class="hl" style="left:91.00px;top:1446.49px;width:148.40px;height:74.41px;line-height:74.41px;padding-left:2px">ER(L)H<span class="bx"></span><span class="hy"></span>22(C)</div>
<div class="nm" style="left:695.90px;top:1445.99px;width:82.00px;height:74.41px;line-height:74.41px;">12.7</div>
<div class="nm" style="left:776.40px;top:1445.99px;width:84.10px;height:74.41px;line-height:74.41px;">22</div>
<div class="ds" style="left:255.90px;top:1446.19px;width:118.50px;height:24.80px;line-height:24.80px;">ER22-7UN</div>
<div class="ds" style="left:423.20px;top:1446.19px;width:117.00px;height:24.80px;line-height:24.80px;">EL22-7UN</div>
<div class="nm" style="left:569.80px;top:1445.99px;width:123.60px;height:24.80px;line-height:24.80px;">7</div>
<div class="nm" style="left:861.50px;top:1445.99px;width:82.90px;height:24.80px;line-height:24.80px;">2.22</div>
<div class="nm" style="left:944.90px;top:1445.99px;width:83.40px;height:24.80px;line-height:24.80px;">1.6</div>
<div class="nm" style="left:1027.30px;top:1445.99px;width:83.20px;height:24.80px;line-height:24.80px;">2.3</div>
<div class="ds" style="left:255.90px;top:1470.99px;width:118.50px;height:24.80px;line-height:24.80px;">ER22-6UN</div>
<div class="ds" style="left:423.20px;top:1470.99px;width:117.00px;height:24.80px;line-height:24.80px;">EL22-6UN</div>
<div class="nm" style="left:569.80px;top:1470.79px;width:123.60px;height:24.80px;line-height:24.80px;">6</div>
<div class="nm" style="left:861.50px;top:1470.79px;width:82.90px;height:24.80px;line-height:24.80px;">2.60</div>
<div class="nm" style="left:944.90px;top:1470.79px;width:83.40px;height:24.80px;line-height:24.80px;">1.6</div>
<div class="nm" style="left:1027.30px;top:1470.79px;width:83.20px;height:24.80px;line-height:24.80px;">2.3</div>
<div class="ds" style="left:255.90px;top:1495.80px;width:118.50px;height:24.80px;line-height:24.80px;">ER22-5UN</div>
<div class="ds" style="left:423.20px;top:1495.80px;width:117.00px;height:24.80px;line-height:24.80px;">EL22-5UN</div>
<div class="nm" style="left:569.80px;top:1495.60px;width:123.60px;height:24.80px;line-height:24.80px;">5</div>
<div class="nm" style="left:861.50px;top:1495.60px;width:82.90px;height:24.80px;line-height:24.80px;">3.12</div>
<div class="nm" style="left:944.90px;top:1495.60px;width:83.40px;height:24.80px;line-height:24.80px;">1.7</div>
<div class="nm" style="left:1027.30px;top:1495.60px;width:83.20px;height:24.80px;line-height:24.80px;">2.5</div>
<div class="hl" style="left:91.00px;top:1520.90px;width:148.40px;height:49.61px;line-height:49.61px;padding-left:2px">ER(L)H<span class="bx"></span><span class="hy"></span>27(C)</div>
<div class="nm" style="left:695.90px;top:1520.40px;width:82.00px;height:49.61px;line-height:49.61px;">15.875</div>
<div class="nm" style="left:776.40px;top:1520.40px;width:84.10px;height:49.61px;line-height:49.61px;">27</div>
<div class="ds" style="left:255.90px;top:1520.60px;width:118.50px;height:24.80px;line-height:24.80px;">ER27-4.5UN</div>
<div class="ds" style="left:423.20px;top:1520.60px;width:117.00px;height:24.80px;line-height:24.80px;">EL27-4.5UN</div>
<div class="nm" style="left:569.80px;top:1520.40px;width:123.60px;height:24.80px;line-height:24.80px;">4.5</div>
<div class="nm" style="left:861.50px;top:1520.40px;width:82.90px;height:24.80px;line-height:24.80px;">3.46</div>
<div class="nm" style="left:944.90px;top:1520.40px;width:83.40px;height:24.80px;line-height:24.80px;">1.9</div>
<div class="nm" style="left:1027.30px;top:1520.40px;width:83.20px;height:24.80px;line-height:24.80px;">2.7</div>
<div class="ds" style="left:255.90px;top:1545.40px;width:118.50px;height:24.80px;line-height:24.80px;">ER27-4UN</div>
<div class="ds" style="left:423.20px;top:1545.40px;width:117.00px;height:24.80px;line-height:24.80px;">EL27-4UN</div>
<div class="nm" style="left:569.80px;top:1545.20px;width:123.60px;height:24.80px;line-height:24.80px;">4</div>
<div class="nm" style="left:861.50px;top:1545.20px;width:82.90px;height:24.80px;line-height:24.80px;">3.89</div>
<div class="nm" style="left:944.90px;top:1545.20px;width:83.40px;height:24.80px;line-height:24.80px;">2.1</div>
<div class="nm" style="left:1027.30px;top:1545.20px;width:83.20px;height:24.80px;line-height:24.80px;">3.0</div>
<svg style="position:absolute;left:0;top:0" width="1200" height="1696"><circle cx="391" cy="541.50" r="4.95" fill="none" stroke="#2e2718" stroke-width="1.5"/><circle cx="554.8" cy="541.50" r="4.95" fill="none" stroke="#2e2718" stroke-width="1.5"/><circle cx="391" cy="566.30" r="4.95" fill="none" stroke="#2e2718" stroke-width="1.5"/><circle cx="554.8" cy="566.30" r="4.95" fill="none" stroke="#2e2718" stroke-width="1.5"/><circle cx="391" cy="591.11" r="4.95" fill="none" stroke="#2e2718" stroke-width="1.5"/><circle cx="554.8" cy="591.11" r="4.95" fill="none" stroke="#2e2718" stroke-width="1.5"/><circle cx="391" cy="615.91" r="4.95" fill="none" stroke="#2e2718" stroke-width="1.5"/><circle cx="554.8" cy="615.91" r="4.95" fill="none" stroke="#2e2718" stroke-width="1.5"/><circle cx="391" cy="640.72" r="4.95" fill="none" stroke="#2e2718" stroke-width="1.5"/><circle cx="554.8" cy="640.72" r="4.95" fill="none" stroke="#2e2718" stroke-width="1.5"/><circle cx="391" cy="665.52" r="4.95" fill="none" stroke="#2e2718" stroke-width="1.5"/><circle cx="554.8" cy="665.52" r="4.95" fill="none" stroke="#2e2718" stroke-width="1.5"/><circle cx="391" cy="690.33" r="4.95" fill="none" stroke="#2e2718" stroke-width="1.5"/><circle cx="554.8" cy="690.33" r="4.95" fill="none" stroke="#2e2718" stroke-width="1.5"/><circle cx="391" cy="715.13" r="4.95" fill="none" stroke="#2e2718" stroke-width="1.5"/><circle cx="554.8" cy="715.13" r="4.95" fill="none" stroke="#2e2718" stroke-width="1.5"/><circle cx="391" cy="739.94" r="4.95" fill="none" stroke="#2e2718" stroke-width="1.5"/><circle cx="554.8" cy="739.94" r="4.95" fill="none" stroke="#2e2718" stroke-width="1.5"/><circle cx="391" cy="764.75" r="4.95" fill="none" stroke="#2e2718" stroke-width="1.5"/><circle cx="554.8" cy="764.75" r="4.95" fill="none" stroke="#2e2718" stroke-width="1.5"/><circle cx="391" cy="789.55" r="4.95" fill="none" stroke="#2e2718" stroke-width="1.5"/><circle cx="554.8" cy="789.55" r="4.95" fill="none" stroke="#2e2718" stroke-width="1.5"/><circle cx="391" cy="814.36" r="4.95" fill="none" stroke="#2e2718" stroke-width="1.5"/><circle cx="554.8" cy="814.36" r="4.95" fill="none" stroke="#2e2718" stroke-width="1.5"/><circle cx="391" cy="839.16" r="4.95" fill="none" stroke="#2e2718" stroke-width="1.5"/><circle cx="554.8" cy="839.16" r="4.95" fill="none" stroke="#2e2718" stroke-width="1.5"/><circle cx="391" cy="863.96" r="4.95" fill="none" stroke="#2e2718" stroke-width="1.5"/><circle cx="554.8" cy="863.96" r="4.95" fill="none" stroke="#2e2718" stroke-width="1.5"/><circle cx="391" cy="888.77" r="4.95" fill="none" stroke="#2e2718" stroke-width="1.5"/><circle cx="554.8" cy="888.77" r="4.95" fill="none" stroke="#2e2718" stroke-width="1.5"/><circle cx="391" cy="913.58" r="4.95" fill="none" stroke="#2e2718" stroke-width="1.5"/><circle cx="554.8" cy="913.58" r="4.95" fill="none" stroke="#2e2718" stroke-width="1.5"/><circle cx="391" cy="938.38" r="4.95" fill="none" stroke="#2e2718" stroke-width="1.5"/><circle cx="554.8" cy="938.38" r="4.95" fill="none" stroke="#2e2718" stroke-width="1.5"/><circle cx="391" cy="963.18" r="4.95" fill="none" stroke="#2e2718" stroke-width="1.5"/><circle cx="554.8" cy="963.18" r="4.95" fill="none" stroke="#2e2718" stroke-width="1.5"/><circle cx="391" cy="987.99" r="4.95" fill="none" stroke="#2e2718" stroke-width="1.5"/><circle cx="554.8" cy="987.99" r="4.95" fill="none" stroke="#2e2718" stroke-width="1.5"/><circle cx="391" cy="1012.80" r="4.95" fill="none" stroke="#2e2718" stroke-width="1.5"/><circle cx="554.8" cy="1012.80" r="4.95" fill="none" stroke="#2e2718" stroke-width="1.5"/><circle cx="391" cy="1037.60" r="4.95" fill="none" stroke="#2e2718" stroke-width="1.5"/><circle cx="554.8" cy="1037.60" r="4.95" fill="none" stroke="#2e2718" stroke-width="1.5"/><circle cx="391" cy="1062.40" r="4.95" fill="none" stroke="#2e2718" stroke-width="1.5"/><circle cx="554.8" cy="1062.40" r="4.95" fill="none" stroke="#2e2718" stroke-width="1.5"/><circle cx="391" cy="1087.21" r="4.95" fill="none" stroke="#2e2718" stroke-width="1.5"/><circle cx="554.8" cy="1087.21" r="4.95" fill="none" stroke="#2e2718" stroke-width="1.5"/><circle cx="391" cy="1112.02" r="5.7" fill="#111"/><circle cx="554.8" cy="1112.02" r="4.95" fill="none" stroke="#2e2718" stroke-width="1.5"/><circle cx="391" cy="1136.82" r="4.95" fill="none" stroke="#2e2718" stroke-width="1.5"/><circle cx="554.8" cy="1136.82" r="4.95" fill="none" stroke="#2e2718" stroke-width="1.5"/><circle cx="391" cy="1161.62" r="5.7" fill="#111"/><circle cx="554.8" cy="1161.62" r="4.95" fill="none" stroke="#2e2718" stroke-width="1.5"/><circle cx="391" cy="1186.43" r="5.7" fill="#111"/><circle cx="554.8" cy="1186.43" r="4.95" fill="none" stroke="#2e2718" stroke-width="1.5"/><circle cx="391" cy="1211.23" r="5.7" fill="#111"/><circle cx="554.8" cy="1211.23" r="4.95" fill="none" stroke="#2e2718" stroke-width="1.5"/><circle cx="391" cy="1236.04" r="5.7" fill="#111"/><circle cx="554.8" cy="1236.04" r="4.95" fill="none" stroke="#2e2718" stroke-width="1.5"/><circle cx="391" cy="1260.85" r="5.7" fill="#111"/><circle cx="554.8" cy="1260.85" r="4.95" fill="none" stroke="#2e2718" stroke-width="1.5"/><circle cx="391" cy="1285.65" r="4.95" fill="none" stroke="#2e2718" stroke-width="1.5"/><circle cx="554.8" cy="1285.65" r="4.95" fill="none" stroke="#2e2718" stroke-width="1.5"/><circle cx="391" cy="1310.46" r="5.7" fill="#111"/><circle cx="554.8" cy="1310.46" r="4.95" fill="none" stroke="#2e2718" stroke-width="1.5"/><circle cx="391" cy="1335.26" r="4.95" fill="none" stroke="#2e2718" stroke-width="1.5"/><circle cx="554.8" cy="1335.26" r="4.95" fill="none" stroke="#2e2718" stroke-width="1.5"/><circle cx="391" cy="1360.06" r="5.7" fill="#111"/><circle cx="554.8" cy="1360.06" r="4.95" fill="none" stroke="#2e2718" stroke-width="1.5"/><circle cx="391" cy="1384.87" r="5.7" fill="#111"/><circle cx="554.8" cy="1384.87" r="4.95" fill="none" stroke="#2e2718" stroke-width="1.5"/><circle cx="391" cy="1409.67" r="5.7" fill="#111"/><circle cx="554.8" cy="1409.67" r="4.95" fill="none" stroke="#2e2718" stroke-width="1.5"/><circle cx="391" cy="1434.48" r="5.7" fill="#111"/><circle cx="554.8" cy="1434.48" r="4.95" fill="none" stroke="#2e2718" stroke-width="1.5"/><circle cx="391" cy="1459.29" r="4.95" fill="none" stroke="#2e2718" stroke-width="1.5"/><circle cx="554.8" cy="1459.29" r="4.95" fill="none" stroke="#2e2718" stroke-width="1.5"/><circle cx="391" cy="1484.09" r="4.95" fill="none" stroke="#2e2718" stroke-width="1.5"/><circle cx="554.8" cy="1484.09" r="4.95" fill="none" stroke="#2e2718" stroke-width="1.5"/><circle cx="391" cy="1508.89" r="4.95" fill="none" stroke="#2e2718" stroke-width="1.5"/><circle cx="554.8" cy="1508.89" r="4.95" fill="none" stroke="#2e2718" stroke-width="1.5"/><circle cx="391" cy="1533.70" r="4.95" fill="none" stroke="#2e2718" stroke-width="1.5"/><circle cx="554.8" cy="1533.70" r="4.95" fill="none" stroke="#2e2718" stroke-width="1.5"/><circle cx="391" cy="1558.50" r="4.95" fill="none" stroke="#2e2718" stroke-width="1.5"/><circle cx="554.8" cy="1558.50" r="4.95" fill="none" stroke="#2e2718" stroke-width="1.5"/></svg>

<!-- legend -->
<div style="position:absolute;left:875px;top:1585.5px;width:10px;height:10px;border-radius:50%;background:#111"></div>
<div style="position:absolute;left:888.5px;top:1581.5px;font-size:13.8px;line-height:18px;transform:scaleX(0.81);transform-origin:0 0;white-space:nowrap;color:#1a1a1a">: Stock Item</div>
<div style="position:absolute;left:959.5px;top:1585.5px;width:10.5px;height:10.5px;border-radius:50%;border:1.2px solid #222"></div>
<div style="position:absolute;left:972.5px;top:1581.5px;font-size:13.8px;line-height:18px;transform:scaleX(0.815);transform-origin:0 0;white-space:nowrap;color:#1a1a1a">: Under preparing for stock</div>
<!-- page number -->
<div style="position:absolute;left:93px;top:1613.5px;font-size:22.5px;line-height:28px;color:#111">10</div>
</body></html>
